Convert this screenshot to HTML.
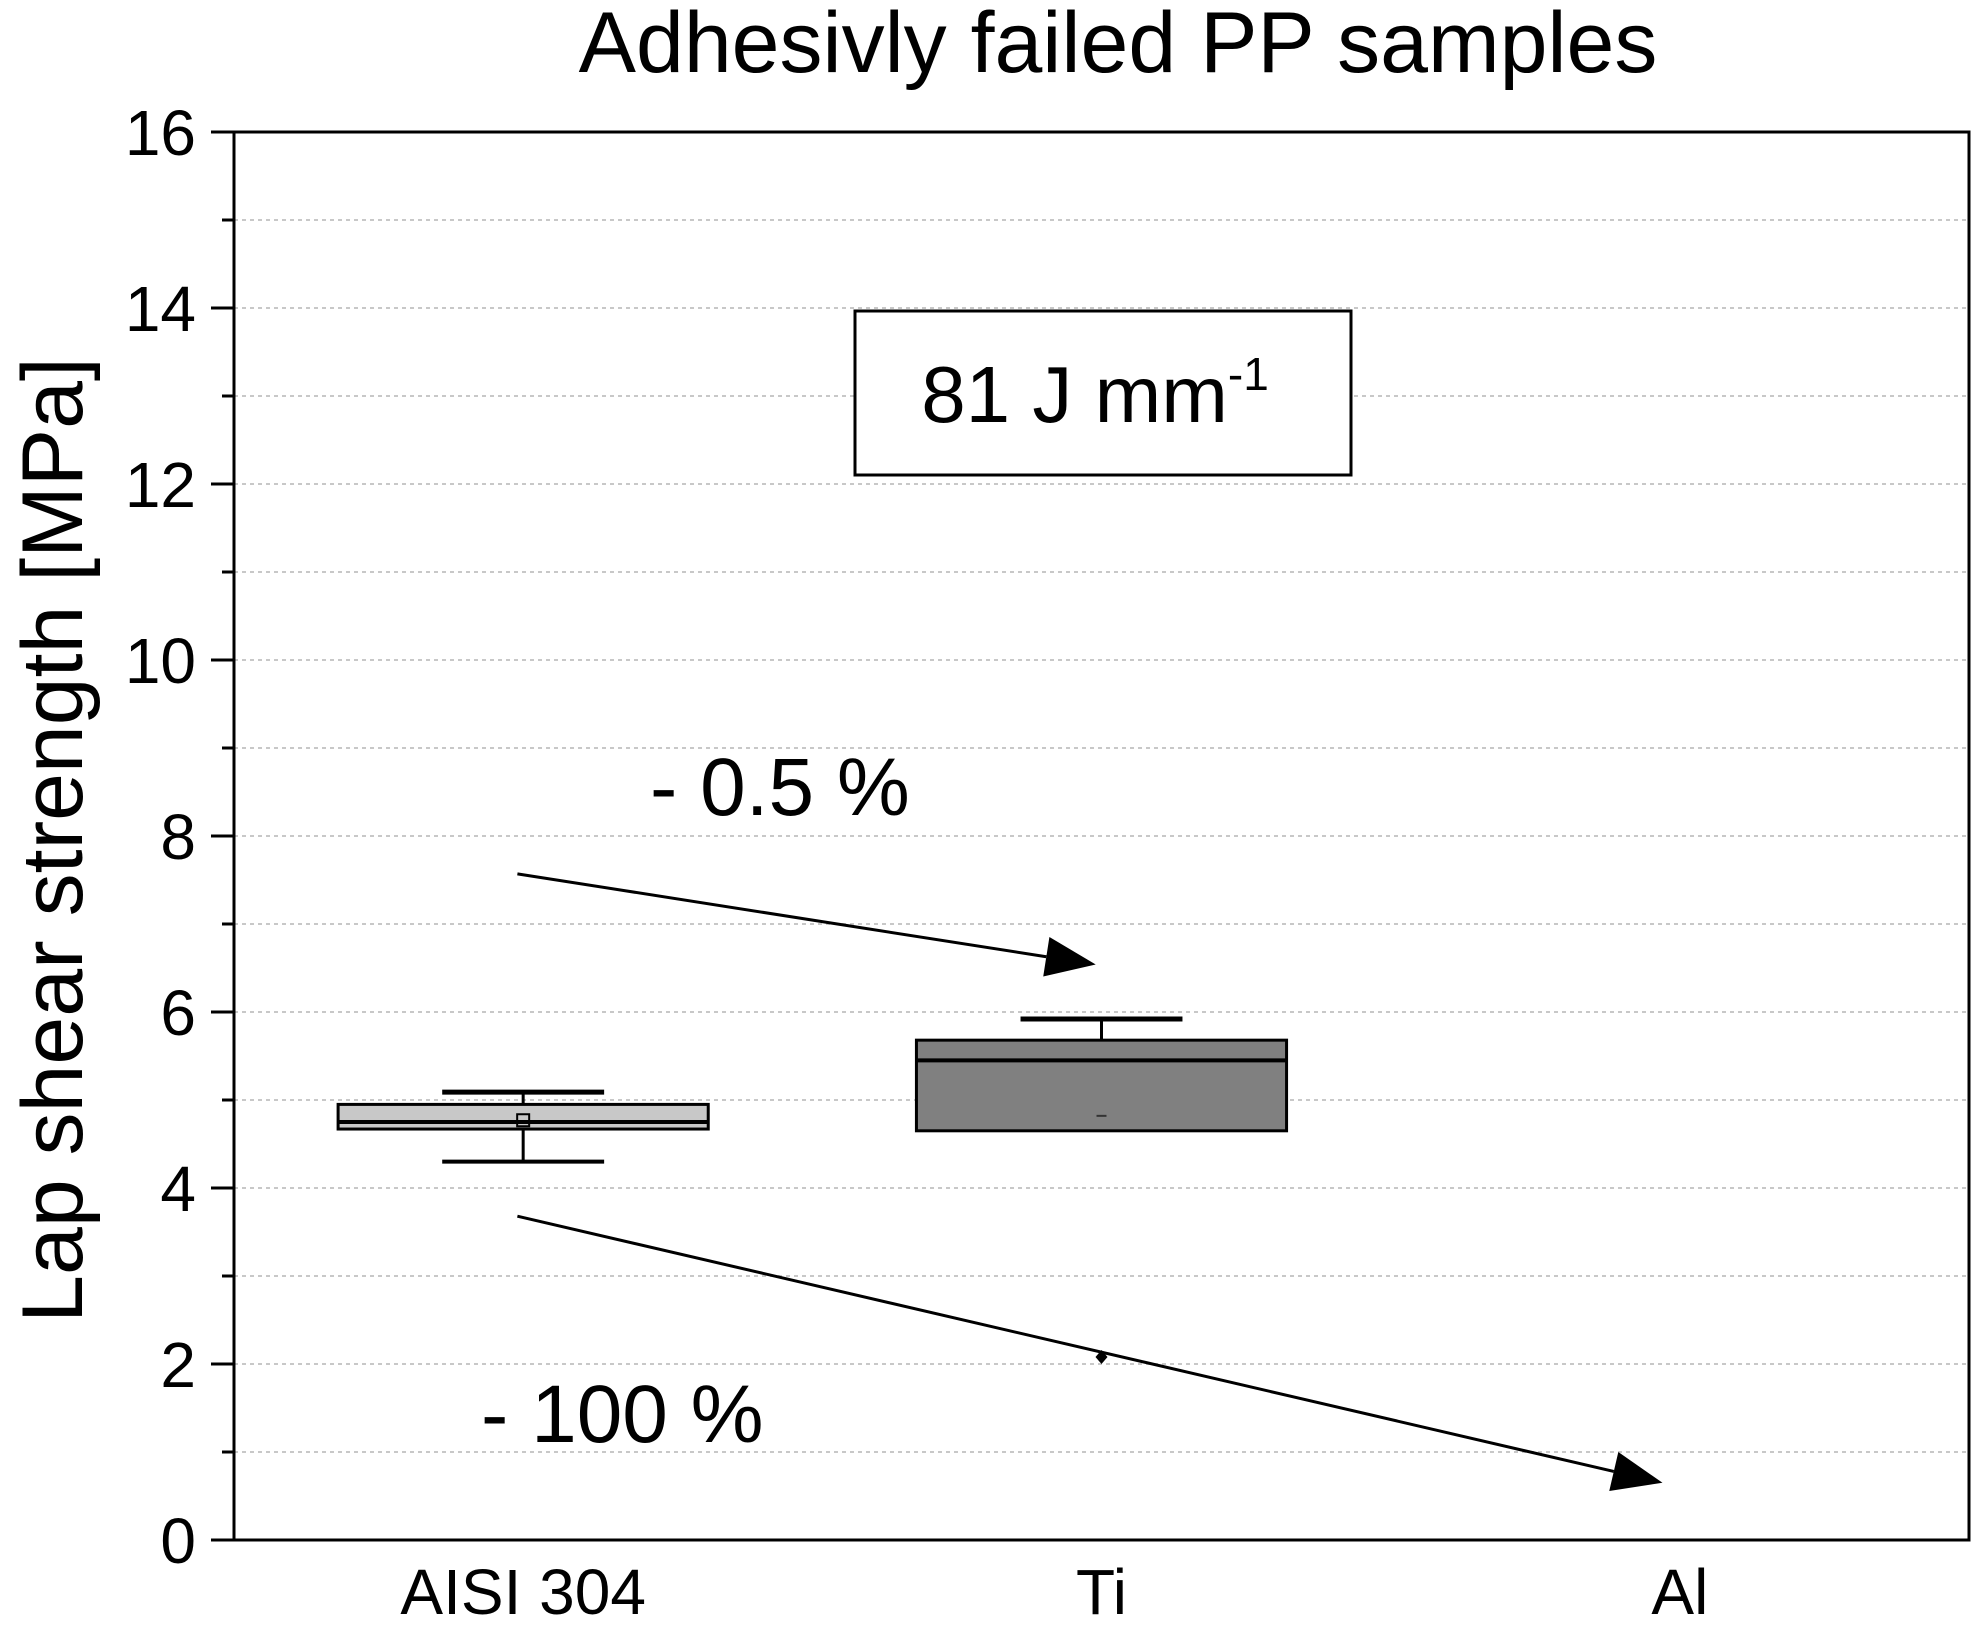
<!DOCTYPE html>
<html><head><meta charset="utf-8"><style>
html,body{margin:0;padding:0;background:#fff;}
svg{display:block;font-family:"Liberation Sans",Arial,sans-serif;}
</style></head><body>
<svg id="chart" width="1987" height="1635" viewBox="0 0 1987 1635">
<text x="1118" y="72" font-size="86" text-anchor="middle">Adhesivly failed PP samples</text>
<g id="grid"></g>
<g id="marks"></g>
<g id="axes"></g>
<text transform="translate(82,840) rotate(-90)" font-size="86" text-anchor="middle">Lap shear strength [MPa]</text>
<g>
<rect x="855" y="311" width="496" height="164" fill="#fff" stroke="#000" stroke-width="3"/>
<text x="1095" y="422" font-size="80" text-anchor="middle">81 J mm<tspan font-size="46" dy="-32">-1</tspan></text>
</g>
<text x="650" y="815" font-size="82">- 0.5 %</text>
<text x="481" y="1442" font-size="82">- 100 %</text>
</svg>
<script>
const categories = ["AISI 304", "Ti", "Al"];
const whiskerLow = [4.30, 4.65, null];
const q1 = [4.67, 4.65, null];
const medians = [4.75, 5.45, null];
const q3 = [4.95, 5.68, null];
const whiskerHigh = [5.09, 5.92, null];
const means = [4.77, 4.82, null];
const outlierCat = [1];
const outlierVal = [2.08];
const yTicks = [0, 2, 4, 6, 8, 10, 12, 14, 16];
const arrowStartX = [0.99, 0.99];
const arrowStartY = [7.57, 3.68];
const arrowEndX = [1.99, 2.97];
const arrowEndY = [6.54, 0.65];

const NS = "http://www.w3.org/2000/svg";
const L = 234, R = 1969, T = 132, B = 1540;
const yMin = 0, yMax = 16;
const xs = i => L + (i + 0.5) / categories.length * (R - L);
const xv = v => L + (v - 0.5) / categories.length * (R - L);
const ys = v => B - (v - yMin) / (yMax - yMin) * (B - T);
const unit = (R - L) / categories.length;
function mk(tag, attrs, parent) {
  const e = document.createElementNS(NS, tag);
  for (const k in attrs) e.setAttribute(k, attrs[k]);
  parent.appendChild(e);
  return e;
}
const grid = document.getElementById('grid');
const marks = document.getElementById('marks');
const axes = document.getElementById('axes');

for (let v = 1; v < yMax; v++) {
  const g = mk('line', {x1: L, x2: R, y1: ys(v), y2: ys(v), stroke: '#c8c8c8', 'stroke-width': 2, 'stroke-dasharray': '4 4'}, grid);
  
  
}

const fills = ['#c8c8c8', '#808080', '#808080'];
categories.forEach((c, i) => {
  if (q1[i] === null) return;
  const cx = xs(i);
  const bw = unit * 0.32, cw = unit * 0.14;
  const g = mk('g', {}, marks);
  
  
  mk('line', {x1: cx, x2: cx, y1: ys(whiskerLow[i]), y2: ys(q1[i]), stroke: '#000', 'stroke-width': 3}, g);
  mk('line', {x1: cx, x2: cx, y1: ys(whiskerHigh[i]), y2: ys(q3[i]), stroke: '#000', 'stroke-width': 3}, g);
  if (whiskerLow[i] < q1[i]) mk('line', {x1: cx - cw, x2: cx + cw, y1: ys(whiskerLow[i]), y2: ys(whiskerLow[i]), stroke: '#000', 'stroke-width': 4}, g);
  mk('line', {x1: cx - cw, x2: cx + cw, y1: ys(whiskerHigh[i]), y2: ys(whiskerHigh[i]), stroke: '#000', 'stroke-width': 5}, g);
  mk('rect', {x: cx - bw, y: ys(q3[i]), width: 2 * bw, height: ys(q1[i]) - ys(q3[i]), fill: fills[i], stroke: '#000', 'stroke-width': 3}, g);
  mk('line', {x1: cx - bw, x2: cx + bw, y1: ys(medians[i]), y2: ys(medians[i]), stroke: '#000', 'stroke-width': 4}, g);
  if (i === 0) mk('rect', {x: cx - 6, y: ys(means[i]) - 6, width: 12, height: 12, fill: 'none', stroke: '#000', 'stroke-width': 2}, g);
  else mk('line', {x1: cx - 5, x2: cx + 5, y1: ys(means[i]), y2: ys(means[i]), stroke: '#333', 'stroke-width': 2}, g);
});

outlierCat.forEach((c, k) => {
  const px = xs(c), py = ys(outlierVal[k]);
  const p = mk('path', {d: `M${px} ${py - 7}L${px + 6} ${py}L${px} ${py + 7}L${px - 6} ${py}Z`, fill: '#000'}, marks);
  
  
});

arrowStartX.forEach((sx, k) => {
  const x1 = xv(sx), y1 = ys(arrowStartY[k]), x2 = xv(arrowEndX[k]), y2 = ys(arrowEndY[k]);
  const ang = Math.atan2(y2 - y1, x2 - x1);
  const len = 50, hw = 20;
  const bx = x2 - len * Math.cos(ang), by = y2 - len * Math.sin(ang);
  const g = mk('g', {}, marks);
  
  
  mk('line', {x1, y1, x2: bx, y2: by, stroke: '#000', 'stroke-width': 3}, g);
  const px = -Math.sin(ang), py = Math.cos(ang);
  mk('path', {d: `M${x2} ${y2}L${bx + px * hw} ${by + py * hw}L${bx - px * hw} ${by - py * hw}Z`, fill: '#000'}, g);
});

const frame = mk('rect', {x: L, y: T, width: R - L, height: B - T, fill: 'none', stroke: '#000', 'stroke-width': 3}, axes);


for (let v = yMin; v <= yMax; v++) {
  const major = yTicks.includes(v);
  mk('line', {x1: L - (major ? 23 : 12), x2: L, y1: ys(v), y2: ys(v), stroke: '#000', 'stroke-width': 3}, axes);
}
yTicks.forEach(v => {
  const t = mk('text', {x: 196, y: ys(v) + 23, 'font-size': 64, 'text-anchor': 'end'}, axes);
  t.textContent = v;
  
  
});
categories.forEach((c, i) => {
  const t = mk('text', {x: xs(i), y: 1614, 'font-size': 64, 'text-anchor': 'middle'}, axes);
  t.textContent = c;
  
  
});
</script>
</body></html>
